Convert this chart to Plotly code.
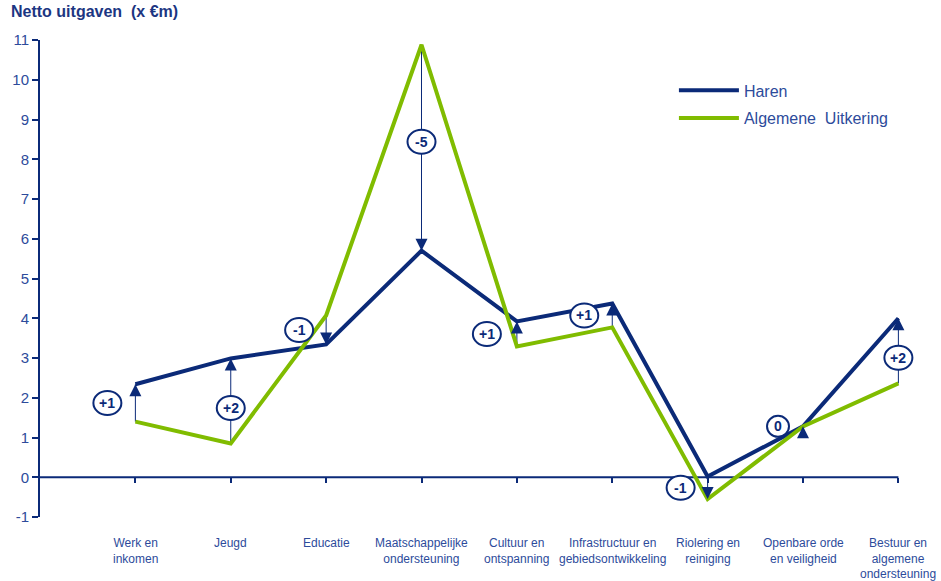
import plotly.graph_objects as go

categories = ["Werk en<br>inkomen", "Jeugd", "Educatie", "Maatschappelijke<br>ondersteuning",
              "Cultuur en<br>ontspanning", "Infrastructuur en<br>gebiedsontwikkeling",
              "Riolering en<br>reiniging", "Openbare orde<br>en veiligheid",
              "Bestuur en<br>algemene<br>ondersteuning"]
haren = [2.34, 2.99, 3.34, 5.70, 3.92, 4.37, 0.02, 1.28, 4.00]
algemene_uitkering = [1.40, 0.85, 4.07, 10.88, 3.29, 3.77, -0.55, 1.28, 2.36]
diff_labels = ["+1", "+2", "-1", "-5", "+1", "+1", "-1", "0", "+2"]
y_ticks = list(range(-1, 12))
y_tick_text = [str(v) for v in y_ticks]

# style: pixel offsets of each circled label relative to its arrow midpoint
label_xshift = [-28, 0, -27, 0, -30, -28, -27, -25, 0]
label_yshift = [0, -7, 0, 6, 0, 0, 0, 0, -7]

NAVY = "#0b2a78"
GREEN = "#80bc00"
TXT = "#2d4b9b"
FONT = "Liberation Sans, Arial, sans-serif"

xs = list(range(len(categories)))
X_MIN, X_LAST, X_MAX = -1, len(categories) - 1, len(categories) - 0.7

fig = go.Figure()

# arrow shafts
sx, sy = [], []
for i in xs:
    if diff_labels[i] != "0":
        sx += [i, i, None]
        sy += [algemene_uitkering[i], haren[i], None]
fig.add_trace(go.Scatter(x=sx, y=sy, mode="lines", line=dict(color=NAVY, width=1),
                         showlegend=False, hoverinfo="skip"))

fig.add_trace(go.Scatter(x=xs, y=haren, mode="lines", name="Haren",
                         line=dict(color=NAVY, width=4), legendgroup="a"))
fig.add_trace(go.Scatter(x=xs, y=algemene_uitkering, mode="lines",
                         name="Algemene\u00a0 Uitkering",
                         line=dict(color=GREEN, width=4), legendgroup="b"))

annotations = []
# x axis line at y = 0, ending at the last category
shapes = [dict(type="line", xref="x", yref="y", x0=X_MIN, x1=X_LAST, y0=0, y1=0,
               line=dict(color=NAVY, width=2), layer="below")]
for i in xs:
    h, a = haren[i], algemene_uitkering[i]
    neg = diff_labels[i].startswith("-")
    head = min(h, a) if neg else max(h, a)
    annotations.append(dict(x=i, y=head, xref="x", yref="y", text="", showarrow=True,
                            ax=0, ay=(-12 if neg else 12), arrowhead=2, arrowsize=2.4,
                            arrowwidth=1, arrowcolor=NAVY, standoff=0))
    mid = (h + a) / 2
    w = 22 if len(diff_labels[i]) == 1 else 28
    hgt = 21 if len(diff_labels[i]) == 1 else 24
    off = label_xshift[i]
    voff = label_yshift[i]
    shapes.append(dict(type="circle", xref="x", yref="y", xsizemode="pixel", ysizemode="pixel",
                       xanchor=i, yanchor=mid, x0=off - w / 2, x1=off + w / 2,
                       y0=voff - hgt / 2, y1=voff + hgt / 2, fillcolor="white",
                       line=dict(color=NAVY, width=2), layer="above"))
    annotations.append(dict(x=i, y=mid, xref="x", yref="y", text="<b>%s</b>" % diff_labels[i],
                            showarrow=False, xshift=off, yshift=voff,
                            font=dict(family=FONT, size=14, color=NAVY)))
    annotations.append(dict(x=i, y=0, xref="x", yref="paper", text=categories[i],
                            showarrow=False, yanchor="top", yshift=-17,
                            font=dict(family=FONT, size=12, color=TXT)))

px_per_unit = 858 / 9.0
right_margin = 941 - 40 - (X_MAX - X_MIN) * px_per_unit

fig.update_layout(
    width=941, height=581,
    margin=dict(l=40, r=right_margin, t=40, b=64, autoexpand=False),
    paper_bgcolor="white", plot_bgcolor="white",
    title=dict(text="<b>Netto uitgaven\u00a0 (x €m)</b>", xref="container", yref="container",
               x=11 / 941, xanchor="left", y=1 - 6 / 581, yanchor="top",
               font=dict(family=FONT, size=16, color="#1c3682")),
    xaxis=dict(range=[X_MIN, X_MAX], tickvals=xs, showticklabels=False, ticks="outside",
               ticklen=5, tickcolor=NAVY, tickwidth=2, showline=False,
               showgrid=False, zeroline=False, anchor="free", position=1 / 12,
               automargin=False),
    yaxis=dict(range=[-1, 11], tickvals=y_ticks, ticktext=y_tick_text, ticks="outside",
               ticklen=6, tickcolor=NAVY, tickwidth=2, showline=True, linecolor=NAVY,
               linewidth=2, showgrid=False, zeroline=False, automargin=False,
               tickfont=dict(family=FONT, size=15, color=TXT)),
    legend=dict(x=0.7385 * 858 / (941 - 40 - right_margin), y=0.93, xanchor="left",
                yanchor="top", bgcolor="rgba(0,0,0,0)",
                font=dict(family=FONT, size=16, color=TXT), itemwidth=60,
                traceorder="grouped", tracegroupgap=4),
    shapes=shapes,
    annotations=annotations,
    showlegend=True,
)

fig.write_html("out.html", config={"displayModeBar": False},
               post_script="document.body.style.margin='0';")
